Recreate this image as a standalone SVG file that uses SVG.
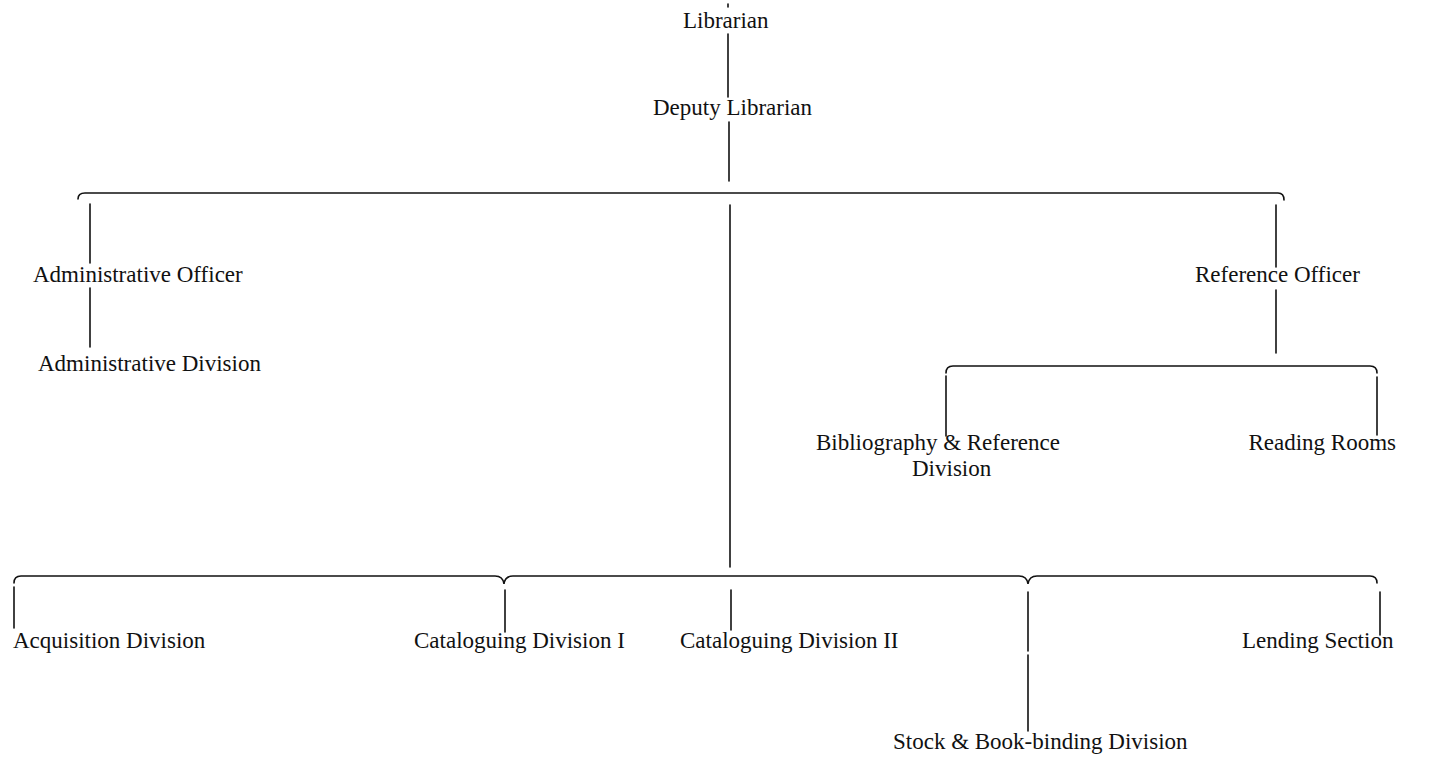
<svg xmlns="http://www.w3.org/2000/svg" width="1443" height="762" viewBox="0 0 1443 762">
<style>
text{font-family:"Liberation Serif","Times New Roman",serif;font-size:23px;fill:#111}
.ln{stroke:#111;stroke-width:1.6;fill:none;stroke-linecap:round}
</style>
<rect width="1443" height="762" fill="#fff"/>
<g id="connectors" class="ln">
<path d="M728 4V7"/>
<path d="M728 34V97"/>
<path d="M729 122V181"/>
<path d="M78 199Q78 193 85 193L1278 193Q1284 193 1284 200"/>
<path d="M90 204V263"/>
<path d="M90 288V347"/>
<path d="M730 205V567"/>
<path d="M1276 205V267"/>
<path d="M1276 290V353"/>
<path d="M946 373Q946 366 953 366L1370 366Q1377 366 1377 373"/>
<path d="M946 376V436"/>
<path d="M1377 377V435"/>
<path d="M14 583Q14 576 21 576L495 576Q503 576 504 584Q505 576 513 576L1019 576Q1027 576 1028 584Q1029 576 1037 576L1370 576Q1377 576 1377 583"/>
<path d="M14 587V628"/>
<path d="M505 590V632"/>
<path d="M731 590V630"/>
<path d="M1028 592V651M1028 655V731"/>
<path d="M1380 592V635"/>
</g>
<g id="n-librarian"><text x="683" y="28">Librarian</text></g>
<g id="n-deputy"><text x="653" y="115">Deputy Librarian</text></g>
<g id="n-admin-officer"><text x="33" y="282">Administrative Officer</text></g>
<g id="n-admin-division"><text x="38" y="371">Administrative Division</text></g>
<g id="n-reference-officer"><text x="1195" y="282">Reference Officer</text></g>
<g id="n-bibliography"><text x="816" y="450">Bibliography &amp; Reference</text><text x="912" y="476">Division</text></g>
<g id="n-reading-rooms"><text x="1396" y="450" text-anchor="end">Reading Rooms</text></g>
<g id="n-acquisition"><text x="13" y="648">Acquisition Division</text></g>
<g id="n-cataloguing-1"><text x="414" y="648">Cataloguing Division I</text></g>
<g id="n-cataloguing-2"><text x="680" y="648">Cataloguing Division II</text></g>
<g id="n-lending"><text x="1242" y="648">Lending Section</text></g>
<g id="n-stock"><text x="893" y="749">Stock &amp; Book-binding Division</text></g>
</svg>
